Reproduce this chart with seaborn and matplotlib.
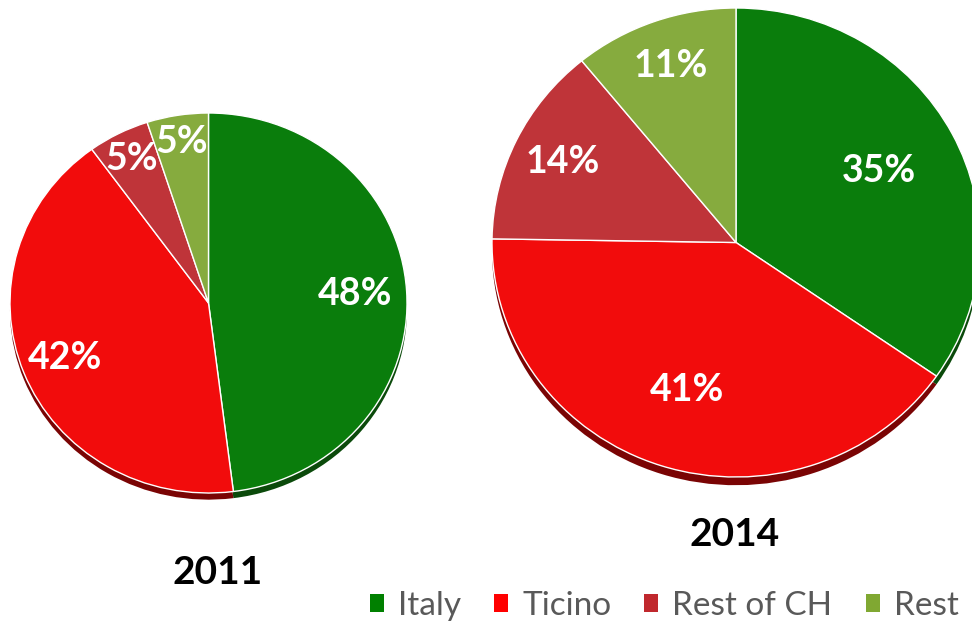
import matplotlib
matplotlib.use("Agg")
import matplotlib.pyplot as plt
from matplotlib.patches import Patch
import seaborn as sns

sns.set_theme(style="white")
plt.rcParams['font.family'] = ['Lato', 'DejaVu Sans']

categories = ["Italy", "Ticino", "Rest of CH", "Rest"]
values_2011 = [48, 42, 5, 5]
values_2014 = [35, 41, 14, 11]
years = ["2011", "2014"]

slice_colors = ["#0a7d0c", "#f20c0c", "#bf3439", "#86ab3e"]
shadow_colors = ["#0b4a0b", "#7a0404", "#6e1a1d", "#4d6b22"]
legend_colors = ["#008000", "#ff0000", "#c0282d", "#80a832"]

W, H = 972, 622
fig = plt.figure(figsize=(W / 100, H / 100), dpi=100)


def px_axes(x0, y0, x1, y1):
    return fig.add_axes([x0 / W, 1 - y1 / H, (x1 - x0) / W, (y1 - y0) / H])


def draw_pie(ax, vals, label_r):
    # shadow
    ax.pie(vals, colors=shadow_colors, startangle=90, counterclock=False,
           center=(0, -0.035), radius=1.0,
           wedgeprops=dict(linewidth=0))
    wedges, texts, autotexts = ax.pie(
        vals, colors=slice_colors, startangle=90, counterclock=False,
        autopct=lambda p: f"{p:.0f}%", pctdistance=1.0, radius=1.0,
        wedgeprops=dict(edgecolor="white", linewidth=1.0),
        textprops=dict(color="white", fontsize=27, fontweight="bold"))
    for t, r, v in zip(autotexts, label_r, vals):
        x, y = t.get_position()
        t.set_position((x * r, y * r))
        t.set_text(f"{v}%")
    ax.set_xlim(-1, 1)
    ax.set_ylim(-1, 1)
    ax.set_aspect("auto")
    ax.axis("off")


ax1 = px_axes(10, 113, 407, 493)
draw_pie(ax1, values_2011, [0.74, 0.78, 0.85, 0.86])

ax2 = px_axes(492, 8, 980, 477)
draw_pie(ax2, values_2014, [0.66, 0.66, 0.79, 0.80])

fig.text(218 / W, 1 - 573 / H, years[0], ha="center", va="center",
         fontsize=28, fontweight="bold", color="black")
fig.text(735 / W, 1 - 535 / H, years[1], ha="center", va="center",
         fontsize=28, fontweight="bold", color="black")

handles = [Patch(facecolor=c, edgecolor="none") for c in legend_colors]
leg = fig.legend(handles, categories, loc="center right",
                 bbox_to_anchor=(1.0, 1 - 606 / H), ncol=4, frameon=False,
                 fontsize=24, handlelength=0.42, handleheight=0.42,
                 handletextpad=0.42, columnspacing=1.0, borderaxespad=0)
for t in leg.get_texts():
    t.set_color("#595959")

fig.savefig("out.png", dpi=100)
